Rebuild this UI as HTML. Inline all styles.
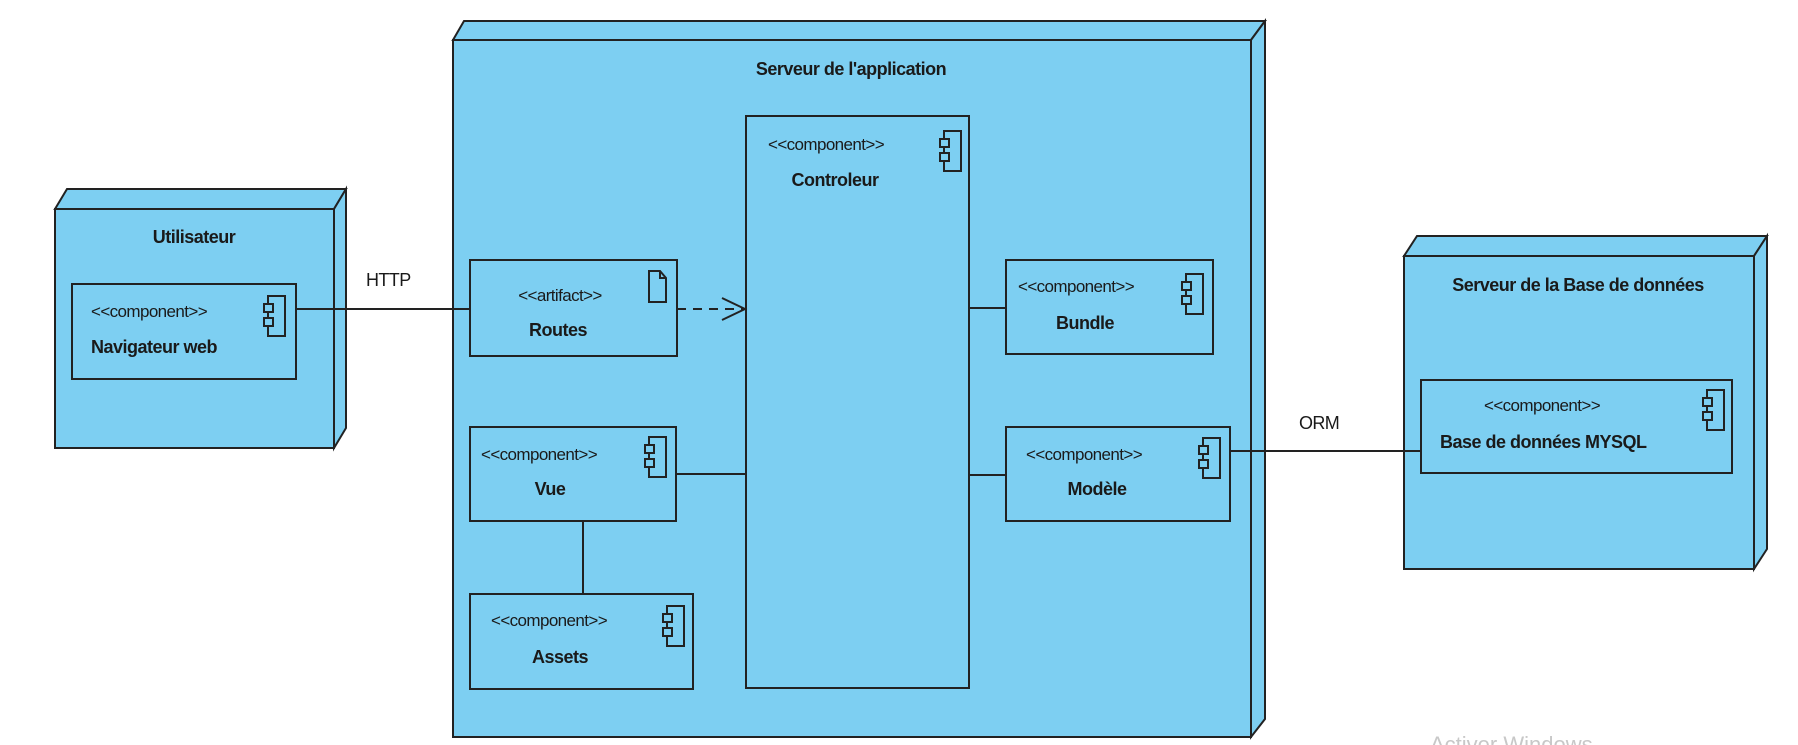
<!DOCTYPE html>
<html><head><meta charset="utf-8"><style>
html,body{margin:0;padding:0;background:#fff;}
svg{display:block;}
text{font-family:"Liberation Sans",Arial,sans-serif;fill:#1a1a1a;}
.st{font-size:17px;letter-spacing:-0.6px;}
.nm{font-size:18px;font-weight:bold;letter-spacing:-0.5px;}
</style></head><body>
<svg width="1798" height="745" viewBox="0 0 1798 745" xmlns="http://www.w3.org/2000/svg">
<defs>
<g id="ci">
<rect x="4" y="0" width="17" height="40" fill="none" stroke="#222" stroke-width="2"/>
<rect x="0" y="8" width="9" height="8" fill="#7dcff2" stroke="#222" stroke-width="2"/>
<rect x="0" y="22" width="9" height="8" fill="#7dcff2" stroke="#222" stroke-width="2"/>
</g>
</defs>
<g stroke="#222" stroke-width="2" fill="#7dcff2">
<!-- Utilisateur node -->
<polygon points="55,209 67,189 346,189 334,209"/>
<polygon points="334,209 346,189 346,428 334,448"/>
<rect x="55" y="209" width="279" height="239"/>
<!-- Server node -->
<polygon points="453,40 464,21 1265,21 1251,40"/>
<polygon points="1251,40 1265,21 1265,719 1251,737"/>
<rect x="453" y="40" width="798" height="697"/>
<!-- DB node -->
<polygon points="1404,256 1417,236 1767,236 1754,256"/>
<polygon points="1754,256 1767,236 1767,549 1754,569"/>
<rect x="1404" y="256" width="350" height="313"/>
<!-- boxes -->
<rect x="72" y="284" width="224" height="95"/>
<rect x="470" y="260" width="207" height="96"/>
<rect x="746" y="116" width="223" height="572"/>
<rect x="470" y="427" width="206" height="94"/>
<rect x="470" y="594" width="223" height="95"/>
<rect x="1006" y="260" width="207" height="94"/>
<rect x="1006" y="427" width="224" height="94"/>
<rect x="1421" y="380" width="311" height="93"/>
</g>
<!-- connectors -->
<g stroke="#222" stroke-width="2" fill="none">
<line x1="296" y1="309" x2="470" y2="309"/>
<line x1="677" y1="309" x2="744" y2="309" stroke-dasharray="9,7"/>
<polyline points="722,298 745,309 722,320"/>
<line x1="676" y1="474" x2="746" y2="474"/>
<line x1="583" y1="521" x2="583" y2="594"/>
<line x1="969" y1="308" x2="1006" y2="308"/>
<line x1="969" y1="475" x2="1006" y2="475"/>
<line x1="1230" y1="451" x2="1421" y2="451"/>
</g>
<!-- icons -->
<use href="#ci" x="264" y="296"/>
<use href="#ci" x="940" y="131"/>
<use href="#ci" x="645" y="437"/>
<use href="#ci" x="663" y="606"/>
<use href="#ci" x="1182" y="274"/>
<use href="#ci" x="1199" y="438"/>
<use href="#ci" x="1703" y="390"/>
<path d="M649,271 h11 l6,7 v24 h-17 z M660,271 v7 h6" fill="none" stroke="#222" stroke-width="2"/>
<!-- text -->
<text class="nm" x="194" y="243" text-anchor="middle">Utilisateur</text>
<text class="st" x="91" y="317">&lt;&lt;component&gt;&gt;</text>
<text class="nm" x="91" y="353">Navigateur web</text>
<text class="st" x="366" y="286" style="font-size:18px">HTTP</text>
<text class="nm" x="851" y="75" text-anchor="middle">Serveur de l'application</text>
<text class="st" x="768" y="150">&lt;&lt;component&gt;&gt;</text>
<text class="nm" x="835" y="186" text-anchor="middle">Controleur</text>
<text class="st" x="560" y="301" text-anchor="middle">&lt;&lt;artifact&gt;&gt;</text>
<text class="nm" x="558" y="336" text-anchor="middle">Routes</text>
<text class="st" x="481" y="460">&lt;&lt;component&gt;&gt;</text>
<text class="nm" x="550" y="495" text-anchor="middle">Vue</text>
<text class="st" x="491" y="626">&lt;&lt;component&gt;&gt;</text>
<text class="nm" x="560" y="663" text-anchor="middle">Assets</text>
<text class="st" x="1018" y="292">&lt;&lt;component&gt;&gt;</text>
<text class="nm" x="1085" y="329" text-anchor="middle">Bundle</text>
<text class="st" x="1026" y="460">&lt;&lt;component&gt;&gt;</text>
<text class="nm" x="1097" y="495" text-anchor="middle">Modèle</text>
<text class="st" x="1299" y="429" style="font-size:18px">ORM</text>
<text class="nm" x="1578" y="291" text-anchor="middle">Serveur de la Base de données</text>
<text class="st" x="1484" y="411">&lt;&lt;component&gt;&gt;</text>
<text class="nm" x="1440" y="448">Base de données MYSQL</text>
<text x="1430" y="752" style="font-size:22px;fill:#c8c8c8">Activer Windows</text>
</svg>
</body></html>
